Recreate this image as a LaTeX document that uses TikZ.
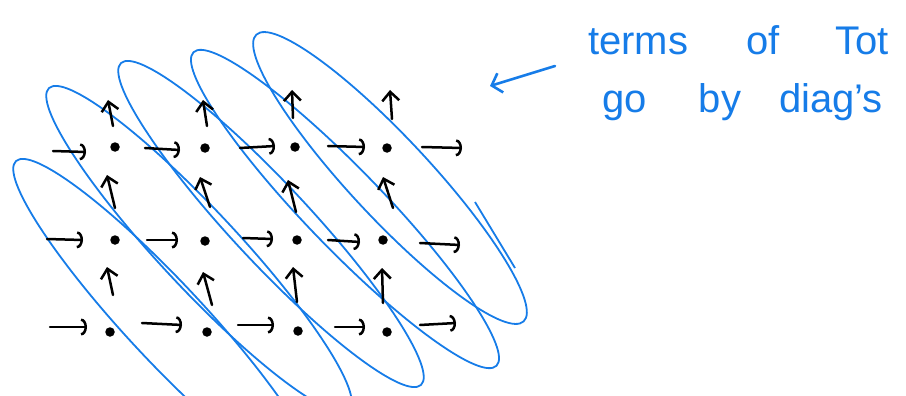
\documentclass[tikz,border=0pt]{standalone}
\usepackage{fontspec}
\setmainfont{Liberation Sans}
\usetikzlibrary{arrows.meta}
\definecolor{pen}{RGB}{22,124,232}
\tikzset{
  loop/.style={draw=pen, line width=1.8pt},
  dotnode/.style={circle, fill=black, inner sep=0pt, minimum size=9.5pt},
  harr/.style={draw=black, line width=2.5pt, line cap=round, -{Arc Barb[length=6pt,width=17pt]}},
  varr/.style={draw=black, line width=2.5pt, line cap=round, -{Straight Barb[length=9pt,width=17pt]}},
  word/.style={text=pen, font=\fontsize{40}{44}\selectfont, anchor=base, inner sep=0pt},
  bluearr/.style={draw=pen, line width=2.6pt, line cap=round, -{Straight Barb[length=9pt,width=20pt]}}
}
\begin{document}
\begin{tikzpicture}[x=1pt,y=-1pt]
\useasboundingbox (0,0) rectangle (906,396);
\begin{scope}
\clip (0,0) rectangle (906,396);
% diagonal loops
\draw[loop, rotate around={-47:(166,322)}] (166,322) ellipse [x radius=220pt, y radius=39pt];
\draw[loop, rotate around={-47:(199,249)}] (199,249) ellipse [x radius=220pt, y radius=39pt];
\draw[loop, rotate around={-47:(271,224)}] (271,224) ellipse [x radius=220pt, y radius=39pt];
\draw[loop, rotate around={-46:(345,209)}] (345,209) ellipse [x radius=218pt, y radius=39pt];
\draw[loop, rotate around={-47:(390,178)}] (390,178) ellipse [x radius=196pt, y radius=40pt];
\coordinate (s1) at (475,202);
\coordinate (s2) at (515,268);
\draw[loop] (s1) -- (s2);
\end{scope}
% dots
\foreach \n/\x/\y in {a1/115/147, a2/205/148, a3/295/147, a4/387/148,
                      b1/115/240, b2/205/241, b3/297/240, b4/383/240,
                      c1/110/332, c2/207/332, c3/298/331, c4/387/332}
  \node[dotnode] (\n) at (\x,\y) {};
% horizontal arrows
\foreach \n/\xa/\ya/\xb/\yb in {
   h1/53/151/86/152, h2/145/148/180/150, h3/240/148/275/146, h4/328/146/365/147, h5/422/147/462/148,
   h6/47/239/83/240, h7/147/240/178/240, h8/243/238/273/239, h9/328/240/360/242, h10/420/243/460/245,
   h11/50/327/87/327, h12/142/323/182/325, h13/238/325/274/325, h14/335/327/365/327, h15/420/325/456/323}{
  \coordinate (\n s) at (\xa,\ya);
  \coordinate (\n e) at (\xb,\yb);
  \draw[harr] (\n s) -- (\n e);
}
% vertical arrows
\foreach \n/\xa/\ya/\xb/\yb in {
   v1/113/126/108/100, v2/207/126/203/100, v3/293/118/292/90, v4/392/119/390/90,
   v5/115/208/107/175, v6/210/207/200/177, v7/296/212/288/180, v8/393/208/383/177,
   v9/113/295/107/267, v10/212/305/203/272, v11/297/302/293/267, v12/383/303/382/268}{
  \coordinate (\n s) at (\xa,\ya);
  \coordinate (\n e) at (\xb,\yb);
  \draw[varr] (\n s) -- (\n e);
}
% annotation
\coordinate (ba) at (555,66);
\coordinate (bb) at (490,86);
\draw[bluearr] (ba) -- (bb);
\node[word] (t1) at (638,55) {terms};
\node[word] (t2) at (763,55) {of};
\node[word] (t3) at (862,55) {Tot};
\node[word] (t4) at (625,113) {go};
\node[word] (t5) at (720,113) {by};
\node[word] (t6) at (831,113) {diag's};
\end{tikzpicture}
\end{document}
